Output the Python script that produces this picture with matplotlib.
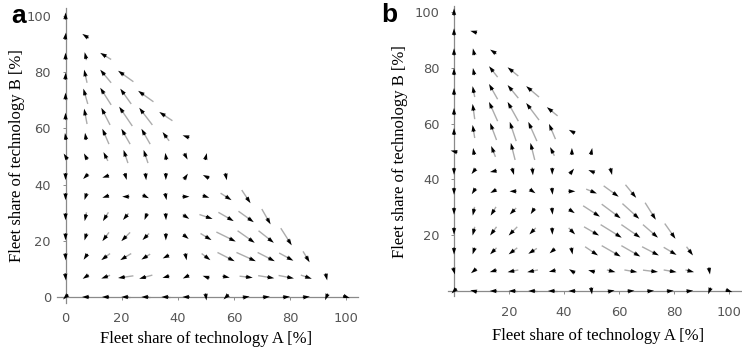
import numpy as np
import matplotlib
matplotlib.use('Agg')
import matplotlib.pyplot as plt
from matplotlib.collections import LineCollection

# grid of fleet shares [%] (both axes)
share = [0, 7.14, 14.29, 21.43, 28.57, 35.71, 42.86, 50, 57.14, 64.29, 71.43, 78.57, 85.71, 92.86, 100]

# rows from B = 100 % (top) down to B = 0 %, each row from A = 0 % to the edge A + B = 100 %
a_u = [
    [0.0],
    [0.2, -1.8],
    [0.0, -0.5, -3.0],
    [0.1, -0.8, -3.0, -4.2],
    [0.0, -1.2, -3.0, -3.0, -4.2],
    [0.0, -0.8, -2.4, -3.6, -3.6, -3.6],
    [-0.3, -0.3, -1.8, -2.4, -2.4, -1.8, -1.8],
    [-0.5, -0.8, -1.2, -1.2, -1.2, -0.3, 0.8, 0.3],
    [0.0, -1.0, -1.5, 0.5, 0.2, 0.0, 0.8, -1.2, 0.4],
    [0.0, -0.5, -1.5, -1.2, 1.2, 0.3, 1.5, 1.8, 3.0, 2.4],
    [0.0, -0.5, -1.5, -1.5, -0.6, 0.1, 1.8, 3.6, 4.2, 4.2, 2.4],
    [0.0, -0.6, -1.8, -2.4, -1.8, 0.0, 1.5, 3.0, 5.3, 4.7, 4.2, 3.0],
    [0.1, -1.0, -2.4, -3.0, -2.4, -1.2, 0.3, 2.4, 4.7, 5.3, 4.7, 3.9, 1.8],
    [0.2, -1.2, -2.4, -4.2, -3.6, -1.8, -1.0, -1.5, 2.0, 3.6, 4.4, 4.2, 3.0, 0.4],
    [-0.5, -1.5, -2.0, -2.4, -2.4, -2.4, -1.8, 0.2, -1.0, 1.8, 2.0, 2.0, 1.8, -0.5, 1.2],
]
a_v = [
    [1.5],
    [1.5, 1.2],
    [1.8, 2.2, 1.8],
    [2.0, 3.6, 3.6, 3.0],
    [2.0, 4.2, 4.7, 4.2, 3.0],
    [2.0, 4.2, 4.7, 5.3, 4.7, 2.4],
    [1.8, 2.0, 4.2, 4.2, 4.2, 2.4, 0.6],
    [0.8, 1.5, 2.4, 3.6, 3.6, 2.0, -1.5, 1.2],
    [-1.5, -1.0, -0.5, -1.8, -2.0, -1.8, 1.2, 0.6, -2.0],
    [-1.8, -1.5, -0.5, 0.0, -0.6, -1.5, 0.0, -0.6, -1.9, -3.6],
    [-1.8, -2.4, -2.4, -1.8, -1.5, -1.8, -1.2, -1.2, -2.4, -3.0, -4.2],
    [-1.8, -2.0, -2.4, -2.4, -1.8, -2.0, -1.2, -1.8, -2.6, -3.3, -3.3, -4.7],
    [-1.8, -1.5, -1.8, -1.8, -1.5, -0.6, -1.5, -1.8, -2.4, -2.4, -2.4, -2.1, -3.0],
    [-1.8, -0.8, -0.9, -0.6, -1.0, -0.5, -0.5, 0.5, -0.4, -0.4, -0.7, -0.8, -1.0, -1.8],
    [-0.5, 0.0, 0.0, 0.0, 0.0, 0.0, 0.0, -1.5, -1.0, 0.3, 0.2, 0.2, 0.2, -1.2, -0.4],
]

b_u = [
    [0.0],
    [0.0, -1.8],
    [0.0, -0.4, -1.8],
    [0.0, -0.4, -2.4, -3.0],
    [0.0, -0.6, -2.4, -3.0, -3.6],
    [0.0, -0.6, -2.4, -3.0, -3.6, -3.0],
    [0.0, -0.6, -1.8, -1.8, -2.4, -1.8, -1.5],
    [-1.2, -0.3, -1.2, -1.2, -1.2, -1.2, 0.0, 0.3],
    [0.0, -0.8, -1.5, 0.6, 0.2, 0.0, 0.8, -1.5, 0.5],
    [0.0, -0.8, -1.5, -1.5, 1.2, 0.2, 1.5, 3.0, 4.2, 3.0],
    [0.0, -0.5, -1.5, -1.8, -0.8, 0.2, 1.2, 4.7, 5.3, 4.7, 3.0],
    [0.0, -0.6, -1.8, -2.4, -1.8, 0.1, 1.8, 4.2, 5.9, 5.3, 4.2, 3.0],
    [0.0, -0.6, -1.8, -2.4, -2.4, -1.2, 0.3, 3.6, 5.3, 5.3, 4.7, 3.6, 1.8],
    [0.4, -1.0, -2.0, -3.0, -3.0, -1.8, -0.8, -1.2, 2.4, 3.6, 4.2, 3.6, 2.4, 0.3],
    [-0.5, -1.2, -2.0, -2.4, -2.4, -2.4, -1.8, 0.2, 1.5, 2.0, 2.0, 2.0, 1.8, -0.5, 1.2],
]
b_v = [
    [1.5],
    [1.5, 0.5],
    [1.8, 1.8, 1.2],
    [2.0, 2.0, 3.0, 2.4],
    [2.0, 3.0, 4.2, 3.6, 3.0],
    [2.0, 4.2, 5.3, 5.3, 4.7, 2.4],
    [1.8, 3.6, 4.7, 5.3, 5.3, 4.2, 0.8],
    [0.3, 1.8, 3.0, 4.7, 4.7, 2.4, 1.8, 1.5],
    [-1.5, -1.0, -0.3, -2.0, -2.2, -1.8, 1.0, 0.6, -2.0],
    [-1.8, -1.2, -0.8, 0.0, -0.8, -1.8, 0.0, -1.2, -3.0, -3.6],
    [-1.8, -2.4, -2.4, -1.8, -1.2, -1.8, -0.8, -3.0, -3.9, -4.2, -4.7],
    [-1.8, -2.4, -2.4, -2.4, -1.8, -2.0, -1.8, -2.4, -3.6, -3.6, -3.6, -4.2],
    [-1.8, -1.8, -1.8, -1.8, -1.5, -1.0, -1.5, -2.4, -3.0, -3.0, -2.4, -2.1, -2.4],
    [-1.5, -0.8, -0.6, -0.6, -0.6, -0.4, 0.5, 0.3, -0.6, -0.6, -0.5, -0.6, -0.6, -1.8],
    [-0.5, 0.3, 0.0, 0.0, 0.0, 0.0, 0.0, -1.5, 0.3, 0.2, 0.2, 0.2, 0.2, -1.2, -0.4],
]

W, H = 742, 352
HEAD = 2.5     # arrow head length in data units
GAIN = 1.3     # drawn arrow length per unit of the tables above


def draw_field(ax, rows_u, rows_v):
    x, y, u, v = [], [], [], []
    for k, (ru, rv) in enumerate(zip(rows_u, rows_v)):
        b = share[len(share) - 1 - k]
        for i, (du, dv) in enumerate(zip(ru, rv)):
            x.append(share[i])
            y.append(b)
            u.append(du * GAIN)
            v.append(dv * GAIN)
    x, y, u, v = map(np.array, (x, y, u, v))
    length = np.hypot(u, v)
    dx, dy = u / length, v / length
    half = np.maximum(length, HEAD) / 2
    tx, ty = x + dx * half, y + dy * half
    # light gray shafts, centred on the grid point
    long_ = length > HEAD
    segs = np.stack([np.column_stack([x - u / 2, y - v / 2]),
                     np.column_stack([tx - dx * HEAD * 0.8, ty - dy * HEAD * 0.8])], axis=1)[long_]
    ax.add_collection(LineCollection(segs, colors='#acacac', linewidths=1.0, zorder=2))
    # black heads
    ax.quiver(tx, ty, dx * HEAD, dy * HEAD, pivot='tip', angles='xy', scale_units='xy', scale=1,
              units='dots', width=1.7, headwidth=2.6, headlength=4.0, headaxislength=3.6,
              color='black', zorder=3)


def style_axes(ax, ticks):
    for s in ['top', 'right']:
        ax.spines[s].set_visible(False)
    for s in ['left', 'bottom']:
        ax.spines[s].set_position(('data', 0))
        ax.spines[s].set_color('#8a8a8a')
        ax.spines[s].set_linewidth(0.9)
    ax.set_xticks(ticks)
    ax.set_yticks(ticks)
    ax.tick_params(axis='both', length=2.5, width=0.7, color='#8a8a8a',
                   labelsize=9.4, labelcolor='#555555')
    ax.tick_params(axis='x', pad=8)
    ax.tick_params(axis='y', pad=8)
    for lab in ax.get_xticklabels() + ax.get_yticklabels():
        lab.set_family('DejaVu Sans')
    ax.patch.set_alpha(0)


fig = plt.figure(figsize=(W / 100, H / 100), dpi=100)
fig.patch.set_facecolor('white')

# panel a: origin at pixel (65.5, 297), 2.81 px per %
ax1 = fig.add_axes([57.1 / W, (H - 302.6) / H, 300.6 / W, 295.0 / H])
ax1.set_xlim(-3, 104)
ax1.set_ylim(-2, 103)
style_axes(ax1, [0, 20, 40, 60, 80, 100])
draw_field(ax1, a_u, a_v)

# panel b: origin at pixel (454, 291), 2.75 px per % along A, 2.79 along B
ax2 = fig.add_axes([447.7 / W, (H - 296.0) / H, 294.0 / W, 290.0 / H])
ax2.set_xlim(-2.3, 104.6)
ax2.set_ylim(-1.8, 102.1)
style_axes(ax2, [20, 40, 60, 80, 100])
draw_field(ax2, b_u, b_v)

serif = 'Liberation Serif'
fig.text(206 / W, 1 - 339 / H, 'Fleet share of technology A [%]', family=serif, fontsize=12,
         ha='center', va='center')
fig.text(17 / W, 1 - 156 / H, 'Fleet share of technology B [%]', family=serif, fontsize=12,
         ha='center', va='center', rotation=90)
fig.text(598 / W, 1 - 336 / H, 'Fleet share of technology A [%]', family=serif, fontsize=12,
         ha='center', va='center')
fig.text(400 / W, 1 - 152 / H, 'Fleet share of technology B [%]', family=serif, fontsize=12,
         ha='center', va='center', rotation=90)

fig.text(11 / W, 1 - 4 / H, 'a', family='Liberation Sans', fontsize=19, fontweight='bold',
         ha='left', va='top')
fig.text(381 / W, 1 - 3 / H, 'b', family='Liberation Sans', fontsize=19, fontweight='bold',
         ha='left', va='top')

fig.savefig('out.png', dpi=100)
